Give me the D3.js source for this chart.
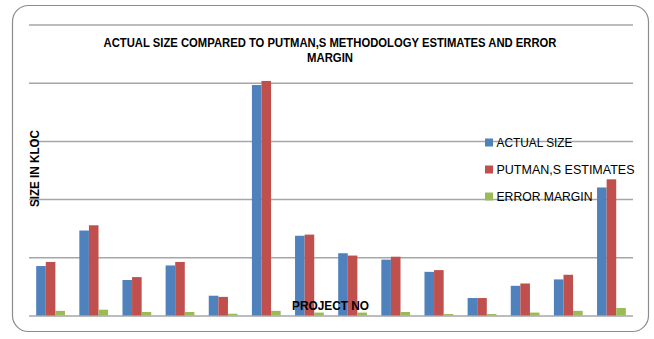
<!DOCTYPE html>
<html>
<head>
<meta charset="utf-8">
<script src="https://cdn.jsdelivr.net/npm/d3@7"></script>
<style>
  body { margin: 0; background: #fff; }
  svg { display: block; font-family: "Liberation Sans", Arial, sans-serif; }
</style>
</head>
<body>
<div id="chart-area"></div>
<script>
// read data (gridline step = 100)
const projects = ["1","2","3","4","5","6","7","8","9","10","11","12","13","14"]
const seriesNames = ["ACTUAL SIZE", "PUTMAN,S ESTIMATES", "ERROR MARGIN"]
const actualSize = [85, 146, 61, 86, 34, 396, 137, 107, 96, 75, 30, 51, 62, 220]
const putmanEstimates = [92, 155, 66, 92, 32, 403, 139, 103, 101, 78, 30, 55, 70, 234]
const errorMargin = [8, 10, 6, 6, 3, 8, 5, 5, 6, 2.5, 2.5, 5, 8, 13]
const yTicks = [0, 100, 200, 300, 400, 500]

const colors = ["#4F81BD", "#C0504D", "#9BBB59"]
const seriesValues = [actualSize, putmanEstimates, errorMargin]

const dataset = projects.map((p, i) => ({
    project: p,
    values: seriesValues.map((s, j) => ({ key: seriesNames[j], value: s[i] }))
}))

const svgWidth = 654
const svgHeight = 339
const plot = { left: 29, right: 633, top: 24.5, bottom: 315.5 }

const svg = d3.select("#chart-area")
    .append("svg")
    .attr("width", svgWidth)
    .attr("height", svgHeight)

// outer rounded frame
svg.append("rect")
    .attr("x", 12.5)
    .attr("y", 5.5)
    .attr("width", 636)
    .attr("height", 326)
    .attr("rx", 16)
    .attr("fill", "#fff")
    .attr("stroke", "#8c8c8c")
    .attr("stroke-width", 1.2)

const xScale = d3.scaleBand()
    .domain(projects)
    .range([plot.left, plot.right])
    .padding(0)

const gap = xScale.bandwidth() * 1.5 / 4.5 / 2
const xInner = d3.scaleBand()
    .domain(seriesNames)
    .range([gap, xScale.bandwidth() - gap])

const yScale = d3.scaleLinear()
    .domain([0, 500])
    .range([plot.bottom, plot.top])

// gridlines
svg.append("g")
    .attr("class", "y-grid")
    .attr("transform", `translate(${plot.left},0)`)
    .call(d3.axisLeft(yScale).tickValues(yTicks).tickSize(-(plot.right - plot.left)).tickFormat(""))
    .call(g => g.select(".domain").remove())
    .call(g => g.selectAll("line")
        .attr("stroke", "#a6a6a6")
        .attr("stroke-width", 1.5))

// bars
const groups = svg.append("g")
    .selectAll("g")
    .data(dataset)
    .join("g")
    .attr("transform", d => `translate(${xScale(d.project)},0)`)

groups.selectAll("rect")
    .data(d => d.values)
    .join("rect")
    .attr("x", d => xInner(d.key))
    .attr("y", d => yScale(d.value))
    .attr("width", xInner.bandwidth())
    .attr("height", d => yScale(0) - yScale(d.value))
    .attr("fill", (d, i) => colors[i])

// title
const title = svg.append("g")
    .attr("font-weight", "bold")
    .attr("font-size", 12)
    .attr("fill", "#000")
    .attr("text-anchor", "middle")
title.append("text")
    .attr("x", 330)
    .attr("y", 47)
    .attr("textLength", 453)
    .attr("lengthAdjust", "spacingAndGlyphs")
    .text("ACTUAL SIZE COMPARED TO PUTMAN,S METHODOLOGY ESTIMATES AND ERROR")
title.append("text")
    .attr("x", 330)
    .attr("y", 62)
    .attr("textLength", 46)
    .attr("lengthAdjust", "spacingAndGlyphs")
    .text("MARGIN")

// axis titles
svg.append("text")
    .attr("transform", "translate(38.5,168.5) rotate(-90)")
    .attr("text-anchor", "middle")
    .attr("font-weight", "bold")
    .attr("font-size", 13)
    .attr("textLength", 77)
    .attr("lengthAdjust", "spacingAndGlyphs")
    .text("SIZE IN KLOC")

svg.append("text")
    .attr("x", 292)
    .attr("y", 309.5)
    .attr("font-weight", "bold")
    .attr("font-size", 13.5)
    .attr("textLength", 77)
    .attr("lengthAdjust", "spacingAndGlyphs")
    .text("PROJECT NO")

// legend
const legendWidths = [76, 138, 96]
const legend = svg.append("g")
    .selectAll("g")
    .data(seriesNames)
    .join("g")
    .attr("transform", (d, i) => `translate(485,${142.5 + i * 27})`)

legend.append("rect")
    .attr("x", 0)
    .attr("y", -4)
    .attr("width", 8)
    .attr("height", 8)
    .attr("fill", (d, i) => colors[i])

legend.append("text")
    .attr("x", 11.5)
    .attr("y", 0)
    .attr("dy", "0.36em")
    .attr("font-size", 13)
    .attr("fill", "#000")
    .attr("textLength", (d, i) => legendWidths[i])
    .attr("lengthAdjust", "spacingAndGlyphs")
    .text(d => d)
</script>
</body>
</html>
